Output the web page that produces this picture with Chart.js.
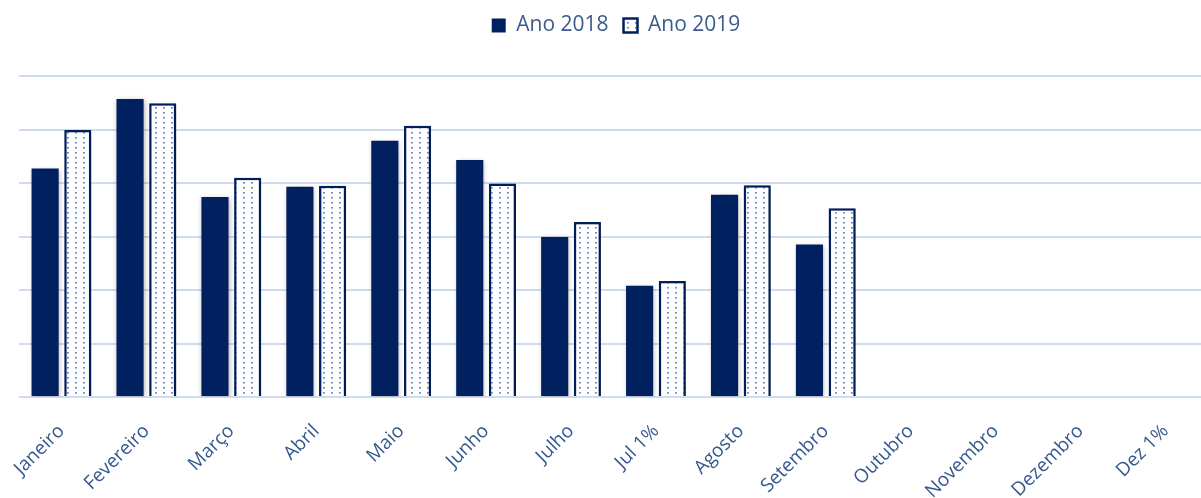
<!DOCTYPE html>
<html>
<head>
<meta charset="utf-8">
<script src="https://cdn.jsdelivr.net/npm/chart.js@4"></script>
<style>
  html, body { margin: 0; padding: 0; background: #ffffff; overflow: hidden; }
  #wrap { position: relative; width: 1232px; height: 498px; }
</style>
</head>
<body>
<div id="wrap"><canvas id="c"></canvas></div>
<script>
const categories = ['Janeiro', 'Fevereiro', 'Março', 'Abril', 'Maio', 'Junho', 'Julho', 'Jul 1%', 'Agosto', 'Setembro', 'Outubro', 'Novembro', 'Dezembro', 'Dez 1%'];
const ano2018 = [42.7, 55.7, 37.4, 39.3, 47.9, 44.3, 29.9, 20.8, 37.8, 28.5, null, null, null, null];
const ano2019 = [49.9, 54.9, 41.0, 39.5, 50.7, 39.9, 32.7, 21.7, 39.6, 35.3, null, null, null, null];
const seriesNames = ['Ano 2018', 'Ano 2019'];
const yTicks = [0, 10, 20, 30, 40, 50, 60];

function dotPattern() {
  const p = document.createElement('canvas');
  p.width = 8; p.height = 5;
  const g = p.getContext('2d');
  g.fillStyle = '#ffffff';
  g.fillRect(0, 0, 8, 5);
  g.fillStyle = 'rgba(72,120,200,0.9)';
  g.fillRect(3, 2, 1.8, 1.6);
  return g.createPattern(p, 'repeat');
}

const shadowPlugin = {
  id: 'barShadow',
  beforeDatasetsDraw(chart) {
    const ctx = chart.ctx;
    ctx.save();
    ctx.shadowColor = 'rgba(0,0,0,0.28)';
    ctx.shadowBlur = 5;
    ctx.shadowOffsetX = 1;
    ctx.shadowOffsetY = 1;
  },
  afterDatasetsDraw(chart) {
    chart.ctx.restore();
  }
};

const legendHeightPlugin = {
  id: 'legendHeight',
  beforeInit(chart) {
    const lg = chart.legend;
    if (!lg) return;
    const orig = lg.fit;
    lg.fit = function () {
      orig.call(this);
      this.height = 76;
    };
  }
};

new Chart(document.getElementById('c'), {
  type: 'bar',
  data: {
    labels: categories,
    datasets: [
      {
        label: seriesNames[0],
        data: ano2018,
        backgroundColor: '#002060',
        borderColor: '#002060',
        borderWidth: 0,
        categoryPercentage: 0.77,
        barPercentage: 0.83
      },
      {
        label: seriesNames[1],
        data: ano2019,
        backgroundColor: dotPattern(),
        borderColor: '#002060',
        borderWidth: 2.5,
        categoryPercentage: 0.77,
        barPercentage: 0.83
      }
    ]
  },
  options: {
    responsive: true,
    maintainAspectRatio: false,
    animation: false,
    layout: { padding: 0 },
    plugins: {
      legend: {
        position: 'top',
        labels: {
          color: '#3b5b8c',
          font: { family: 'Open Sans', size: 21 },
          boxWidth: 14,
          boxHeight: 14,
          padding: 15
        }
      },
      tooltip: { enabled: false }
    },
    scales: {
      x: {
        grid: { display: false },
        border: { display: false },
        ticks: {
          color: '#35598f',
          font: { family: 'Open Sans', size: 19 },
          minRotation: 45,
          maxRotation: 45,
          autoSkip: false,
          padding: 15
        },
        afterFit(scale) {
          scale.height = 101;
          scale.paddingLeft = 0;
          scale.paddingRight = 24;
        }
      },
      y: {
        min: yTicks[0],
        max: yTicks[yTicks.length - 1],
        afterBuildTicks(scale) { scale.ticks = yTicks.map(v => ({ value: v })); },
        ticks: { display: false },
        border: { display: false },
        grid: { color: '#cfdcf0', lineWidth: 2, drawTicks: false },
        afterFit(scale) { scale.width = 19; }
      }
    }
  },
  plugins: [shadowPlugin, legendHeightPlugin]
});
</script>
</body>
</html>
